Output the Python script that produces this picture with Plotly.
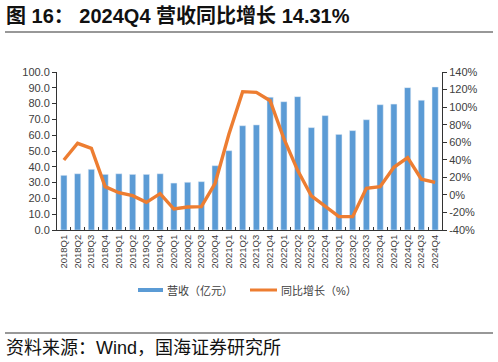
import plotly.graph_objects as go

quarters = ["2018Q1","2018Q2","2018Q3","2018Q4","2019Q1","2019Q2","2019Q3","2019Q4",
            "2020Q1","2020Q2","2020Q3","2020Q4","2021Q1","2021Q2","2021Q3","2021Q4",
            "2022Q1","2022Q2","2022Q3","2022Q4","2023Q1","2023Q2","2023Q3","2023Q4",
            "2024Q1","2024Q2","2024Q3","2024Q4"]
revenue = [34.6, 35.6, 38.4, 35.2, 35.6, 35.2, 35.2, 35.6,
           29.7, 30.2, 30.6, 40.7, 50.2, 66.0, 66.5, 84.0,
           81.2, 84.4, 64.8, 72.4, 60.5, 62.9, 69.8, 79.3,
           79.7, 90.1, 82.1, 90.5]
yoy = [39.7, 58.8, 53.1, 9.4, 2.5, -0.9, -8.5, 1.4,
       -16.1, -13.8, -13.4, 13.2, 69.0, 117.6, 116.8, 107.3,
       64.0, 28.0, -1.2, -13.4, -24.8, -24.8, 7.5, 9.4,
       31.4, 42.4, 17.8, 14.31]
left_ticks = [0, 10, 20, 30, 40, 50, 60, 70, 80, 90, 100]
left_labels = ["0.0", "10.0", "20.0", "30.0", "40.0", "50.0", "60.0", "70.0", "80.0", "90.0", "100.0"]
right_ticks = [-40, -20, 0, 20, 40, 60, 80, 100, 120, 140]
right_labels = ["-40%", "-20%", "0%", "20%", "40%", "60%", "80%", "100%", "120%", "140%"]

BLUE = "#5B9BD5"
ORANGE = "#ED7D31"
TXT = "#404040"
FONT = "Liberation Sans, Arial, Noto Sans CJK SC"

fig = go.Figure()
fig.add_trace(go.Bar(x=quarters, y=revenue, name="营收（亿元）", marker_color=BLUE,
                     width=0.45, yaxis="y"))
fig.add_trace(go.Scatter(x=quarters, y=yoy, name="同比增长（%）", mode="lines",
                         line=dict(color=ORANGE, width=3.4), yaxis="y2"))

W, H = 498, 362
L, R, T, B = 57, 442, 72, 230
def px(x):
    return (x - L) / (R - L)
def py(y):
    return (B - y) / (B - T)

fig.update_layout(
    width=W, height=H,
    margin=dict(l=L, r=W - R, t=T, b=H - B),
    plot_bgcolor="white", paper_bgcolor="white",
    showlegend=False,
    font=dict(family=FONT, color=TXT, size=11),
    xaxis=dict(type="category", tickangle=-90, tickfont=dict(size=9.5, color=TXT),
               showline=True, linecolor="#333333", linewidth=1,
               ticks="inside", tickson="boundaries", ticklen=3, tickcolor="#333333",
               showgrid=False),
    yaxis=dict(range=[0, 100], tickmode="array", tickvals=left_ticks, ticktext=left_labels,
               showline=True, linecolor="#333333", linewidth=1,
               ticks="outside", ticklen=4, tickcolor="#333333",
               showgrid=False, zeroline=False, tickfont=dict(size=11, color=TXT)),
    yaxis2=dict(range=[-40, 140], tickmode="array", tickvals=right_ticks, ticktext=right_labels,
                overlaying="y", side="right", showline=True, linecolor="#333333", linewidth=1,
                ticks="outside", ticklen=4, tickcolor="#333333",
                showgrid=False, zeroline=False, tickfont=dict(size=11, color=TXT)),
)

shapes = [
    dict(type="line", xref="paper", yref="paper", x0=px(5), x1=px(493), y0=py(32), y1=py(32),
         line=dict(color="#333333", width=1.2)),
    dict(type="line", xref="paper", yref="paper", x0=px(5), x1=px(493), y0=py(333), y1=py(333),
         line=dict(color="#333333", width=1.2)),
    dict(type="line", xref="paper", yref="paper", x0=px(138), x1=px(163), y0=py(290), y1=py(290),
         line=dict(color=BLUE, width=4)),
    dict(type="line", xref="paper", yref="paper", x0=px(250), x1=px(277), y0=py(290), y1=py(290),
         line=dict(color=ORANGE, width=3)),
]
fig.update_layout(shapes=shapes)

annotations = [
    dict(text="<b>图 16： 2024Q4 营收同比增长 14.31%</b>", xref="paper", yref="paper",
         x=px(4), y=py(16), xanchor="left", yanchor="middle", showarrow=False,
         font=dict(size=20, color="#111111", family=FONT)),
    dict(text="资料来源：Wind，国海证券研究所", xref="paper", yref="paper",
         x=px(4), y=py(348), xanchor="left", yanchor="middle", showarrow=False,
         font=dict(size=18, color="#111111", family=FONT)),
    dict(text="营收（亿元）", xref="paper", yref="paper",
         x=px(165), y=py(290), xanchor="left", yanchor="middle", showarrow=False,
         font=dict(size=11, color=TXT, family=FONT)),
    dict(text="同比增长（%）", xref="paper", yref="paper",
         x=px(279), y=py(290), xanchor="left", yanchor="middle", showarrow=False,
         font=dict(size=11, color=TXT, family=FONT)),
]
fig.update_layout(annotations=annotations)

fig.write_html("out.html", config={"displayModeBar": False},
               post_script="document.body.style.margin='0px';")
